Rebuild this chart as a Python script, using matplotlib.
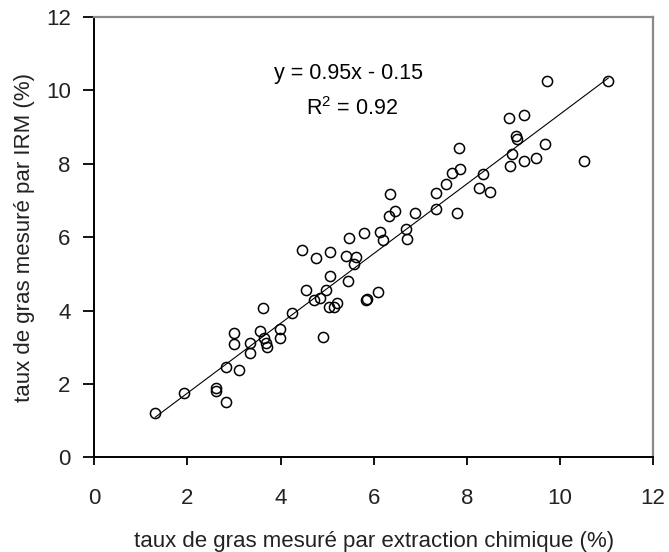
import matplotlib
matplotlib.use("Agg")
import matplotlib.pyplot as plt
import numpy as np

# Data
x_chem = [1.31, 1.92, 2.62, 2.62, 2.82, 2.83, 3.10, 3.01, 3.01, 3.35, 3.35,
          3.55, 3.62, 3.64, 3.69, 3.70, 3.98, 3.99, 4.24, 4.46, 4.55, 4.72,
          4.76, 4.84, 4.91, 4.97, 5.04, 5.07, 5.07, 5.15, 5.22, 5.40, 5.46,
          5.48, 5.57, 5.63, 5.79, 5.84, 5.86, 6.10, 6.14, 6.21, 6.34, 6.35,
          6.46, 6.69, 6.71, 6.89, 7.33, 7.35, 7.56, 7.69, 7.79, 7.83, 7.85,
          8.26, 8.36, 8.50, 8.90, 8.93, 8.97, 9.06, 9.09, 9.22, 9.23, 9.49,
          9.68, 9.73, 10.52, 11.04]
y_irm = [1.21, 1.74, 1.88, 1.80, 1.50, 2.45, 2.37, 3.40, 3.09, 3.11, 2.85,
         3.45, 4.06, 3.24, 3.11, 3.00, 3.51, 3.26, 3.93, 5.64, 4.56, 4.30,
         5.43, 4.33, 3.28, 4.56, 4.11, 4.93, 5.59, 4.11, 4.20, 5.48, 4.81,
         5.98, 5.26, 5.45, 6.12, 4.29, 4.32, 4.50, 6.15, 5.93, 6.58, 7.17,
         6.71, 6.22, 5.96, 6.65, 6.77, 7.20, 7.46, 7.75, 6.67, 8.42, 7.87,
         7.34, 7.73, 7.24, 9.25, 7.95, 8.26, 8.77, 8.68, 8.09, 9.33, 8.17,
         8.54, 10.26, 8.07, 10.26]
slope = 0.95
intercept = -0.15
eq_text = "y = 0.95x - 0.15"
r2_text = "R$^2$ = 0.92"
xticks = [0, 2, 4, 6, 8, 10, 12]
yticks = [0, 2, 4, 6, 8, 10, 12]
xlabel = "taux de gras mesuré par extraction chimique (%)"
ylabel = "taux de gras mesuré par IRM (%)"

plt.rcParams['font.family'] = ['Liberation Sans', 'DejaVu Sans']
plt.rcParams['mathtext.fontset'] = 'custom'
plt.rcParams['mathtext.rm'] = 'Liberation Sans'

fig = plt.figure(figsize=(6.69, 5.52), dpi=100)
ax = fig.add_axes([0.141, 0.1716, 0.976 - 0.141, 0.969 - 0.1716])

ax.plot(x_chem, y_irm, linestyle='none', marker='o', markersize=7.3,
        markerfacecolor='none', markeredgecolor='black', markeredgewidth=1.1,
        zorder=3)

xs = np.array([min(x_chem), max(x_chem)])
ax.plot(xs, slope * xs + intercept, color='black', linewidth=0.8, zorder=2)

ax.text(5.47, 10.47, eq_text, ha='center', va='center', fontsize=15.5)
ax.text(5.53, 9.52, r2_text, ha='center', va='center', fontsize=15.5)

ax.set_xlim(0, 12)
ax.set_ylim(0, 12)
ax.set_xticks(xticks)
ax.set_yticks(yticks)
ax.set_xticklabels([str(t) for t in xticks], fontsize=16, color='#222222')
ax.set_yticklabels([str(t) for t in yticks], fontsize=16, color='#222222')
ax.tick_params(axis='x', direction='out', length=6, width=1.3, pad=16)
ax.tick_params(axis='y', direction='out', length=8, width=1.3, pad=9)

for s in ['left', 'bottom']:
    ax.spines[s].set_color('black')
    ax.spines[s].set_linewidth(1.4)
for s in ['top', 'right']:
    ax.spines[s].set_color('#8a8a8a')
    ax.spines[s].set_linewidth(1.6)

ax.set_xlabel(xlabel, fontsize=16, color='#222222')
ax.set_ylabel(ylabel, fontsize=16, color='#222222')
ax.xaxis.set_label_coords(0.5, -0.168)
ax.yaxis.set_label_coords(-0.106, 0.5)

fig.savefig("out.png", dpi=100)
